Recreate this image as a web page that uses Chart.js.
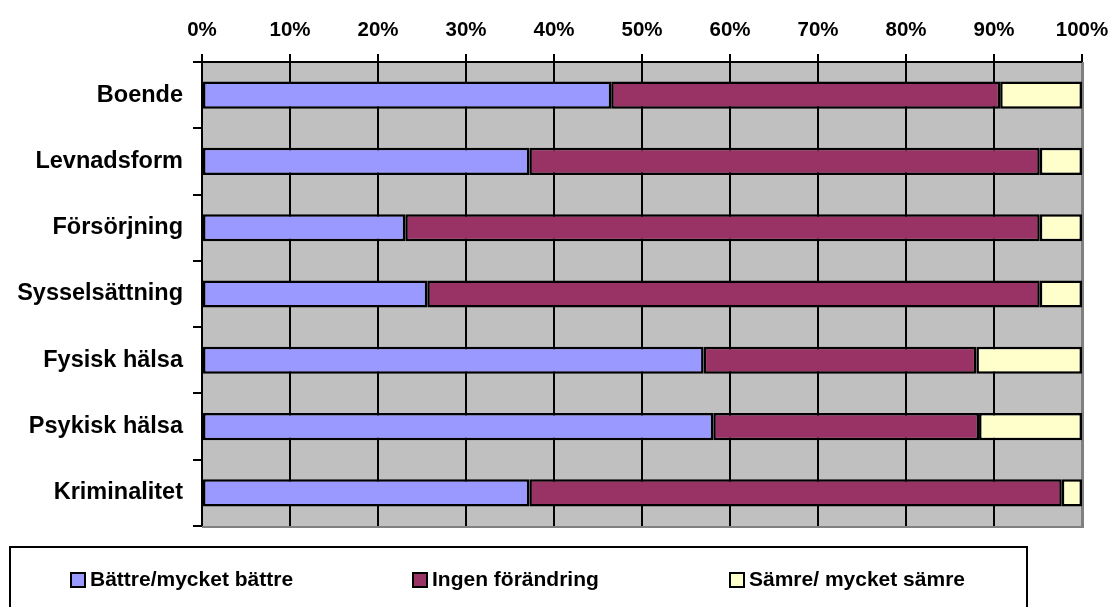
<!DOCTYPE html>
<html><head><meta charset="utf-8">
<script src="https://cdn.jsdelivr.net/npm/chart.js@4.4.1/dist/chart.umd.min.js"></script>
<style>html,body{margin:0;padding:0;background:#fff;overflow:hidden;}</style>
</head><body>
<canvas id="c" width="1111" height="607"></canvas>
<script>
const categories = ['Boende','Levnadsform','Försörjning','Sysselsättning','Fysisk hälsa','Psykisk hälsa','Kriminalitet'];
const better   = [46.5, 37.2, 23.1, 25.6, 57.0, 58.1, 37.2];
const noChange = [44.2, 58.0, 72.1, 69.6, 31.0, 30.2, 60.5];
const worse    = [9.3, 4.8, 4.8, 4.8, 12.0, 11.7, 2.3];
const seriesNames = ['Bättre/mycket bättre','Ingen förändring','Sämre/ mycket sämre'];
const seriesColors = ['#9999FF','#993366','#FFFFCC'];
const tickSuffix = '%';

const FONT = '"Liberation Sans", Arial, sans-serif';

const bgPlugin = {
  id: 'bg',
  beforeDraw(chart) {
    const a = chart.chartArea, ctx = chart.ctx;
    ctx.save();
    ctx.fillStyle = '#C0C0C0';
    ctx.fillRect(a.left, a.top, a.right - a.left, a.bottom - a.top);
    ctx.restore();
  },
  afterDraw(chart) {
    const a = chart.chartArea, ctx = chart.ctx;
    ctx.save();
    ctx.strokeStyle = '#808080';
    ctx.lineWidth = 2;
    ctx.beginPath();
    ctx.moveTo(a.right + 1, a.top);
    ctx.lineTo(a.right + 1, a.bottom + 1);
    ctx.lineTo(a.left, a.bottom + 1);
    ctx.stroke();
    // legend
    ctx.strokeStyle = '#000';
    ctx.lineWidth = 2;
    ctx.strokeRect(10, 547, 1017, 70);
    const xs = [71, 413, 730];
    ctx.font = 'bold 21px ' + FONT;
    ctx.textBaseline = 'middle';
    ctx.textAlign = 'left';
    chart.data.datasets.forEach((ds, i) => {
      ctx.fillStyle = ds.backgroundColor;
      ctx.fillRect(xs[i], 573, 14, 14);
      ctx.strokeStyle = '#000';
      ctx.lineWidth = 2;
      ctx.strokeRect(xs[i], 573, 14, 14);
      ctx.fillStyle = '#000';
      ctx.fillText(ds.label, xs[i] + 19, 580);
    });
    ctx.restore();
  }
};

new Chart(document.getElementById('c'), {
  type: 'bar',
  data: {
    labels: categories,
    datasets: [
      { label: seriesNames[0], data: better,   backgroundColor: seriesColors[0] },
      { label: seriesNames[1], data: noChange, backgroundColor: seriesColors[1] },
      { label: seriesNames[2], data: worse,    backgroundColor: seriesColors[2] }
    ].map(d => Object.assign(d, { borderColor: '#000', borderWidth: 2.5, borderSkipped: false, barPercentage: 0.41, categoryPercentage: 1 }))
  },
  options: {
    indexAxis: 'y',
    responsive: false,
    animation: false,
    layout: { padding: { top: 0, right: 29, bottom: 81, left: 0 } },
    plugins: { legend: { display: false }, tooltip: { enabled: false } },
    scales: {
      x: {
        position: 'top',
        stacked: true,
        min: 0, max: 100,
        afterFit(s) { s.height = 62; s.paddingLeft = 0; s.paddingRight = 0; },
        ticks: { stepSize: 10, callback: v => v + tickSuffix, color: '#000', padding: 11, maxRotation: 0,
                 font: { family: FONT, size: 20.5, weight: 'bold' } },
        grid: { color: c => (c.tick && c.tick.value === 100) ? '#808080' : '#000', tickColor: '#000', lineWidth: 2, tickLength: 8 },
        border: { display: true, color: '#000', width: 2 }
      },
      y: {
        stacked: true,
        afterFit(s) { s.width = 202; s.paddingTop = 0; s.paddingBottom = 0; },
        ticks: { color: '#000', padding: 10, font: { family: FONT, size: 23.5, weight: 'bold' } },
        grid: { drawOnChartArea: false, offset: true, color: '#000', lineWidth: 2, tickLength: 9 },
        border: { display: true, color: '#000', width: 2 }
      }
    }
  },
  plugins: [bgPlugin]
});
</script>
</body></html>
